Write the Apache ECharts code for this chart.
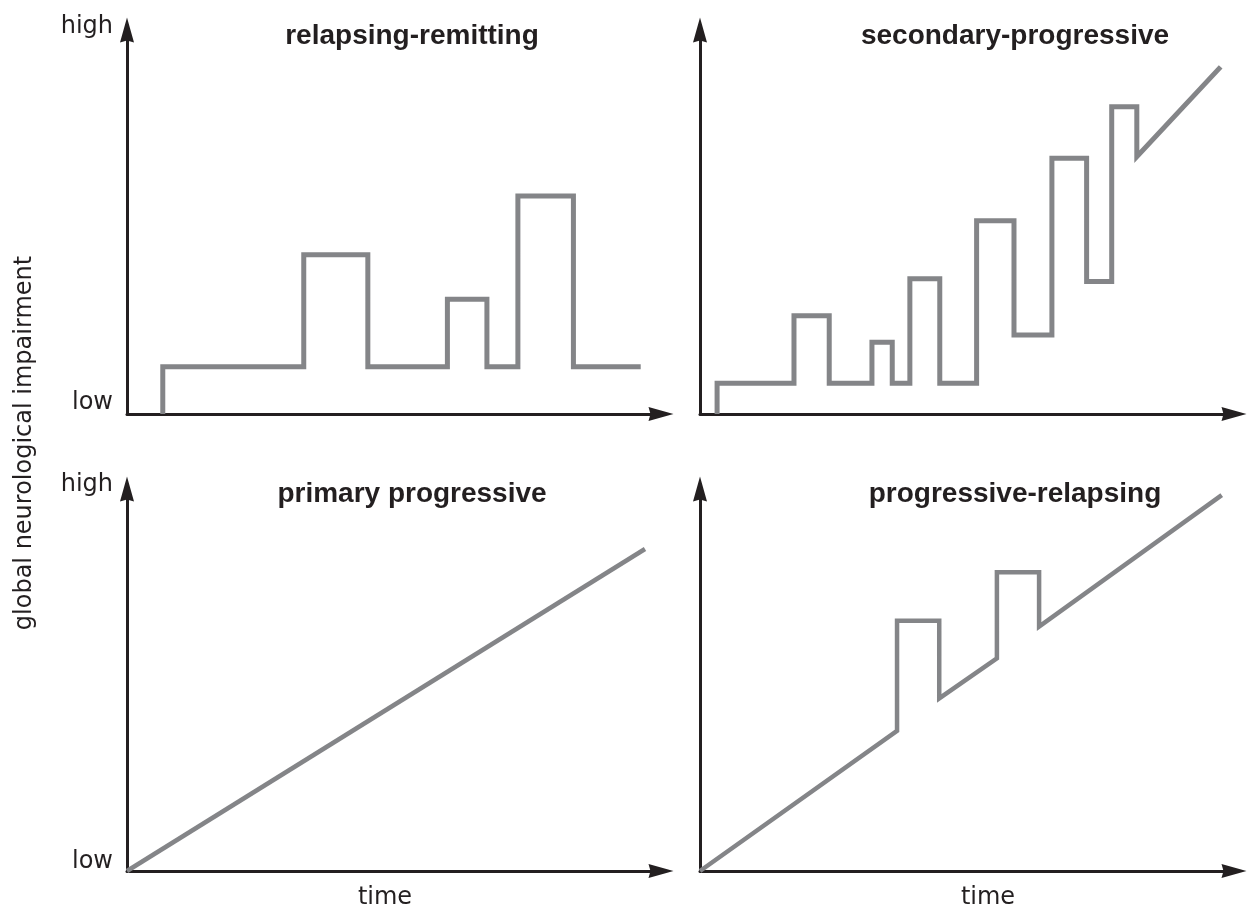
<!DOCTYPE html>
<html>
<head>
<meta charset="utf-8">
<title>MS disease courses</title>
<script src="https://cdn.jsdelivr.net/npm/echarts@6/dist/echarts.min.js"></script>
<style>
  html, body { margin: 0; padding: 0; background: #fff; }
  #chart { width: 1248px; height: 912px; }
</style>
</head>
<body>
<div id="chart"></div>
<script>
// time runs 0..100 along each panel, impairment 0 (low) .. 100 (high)
const rrTime = [6.7, 6.7, 33.1, 33.1, 45.1, 45.1, 60.0, 60.0, 67.4, 67.4, 73.2, 73.2, 83.6, 83.6, 96.2]
const rrLevel = [0, 12.3, 12.3, 41.5, 41.5, 12.3, 12.3, 29.9, 29.9, 12.3, 12.3, 56.8, 56.8, 12.3, 12.3]

const spTime = [3.2, 3.2, 17.6, 17.6, 24.2, 24.2, 32.2, 32.2, 36.0, 36.0, 39.3, 39.3, 44.9, 44.9,
  51.8, 51.8, 58.8, 58.8, 65.9, 65.9, 72.4, 72.4, 77.1, 77.1, 81.8, 81.8, 97.5]
const spLevel = [0, 8.0, 8.0, 25.6, 25.6, 8.0, 8.0, 18.7, 18.7, 8.0, 8.0, 35.2, 35.2, 8.0,
  8.0, 50.3, 50.3, 20.6, 20.6, 66.6, 66.6, 34.5, 34.5, 80.0, 80.0, 67.0, 90.4]

const ppTime = [0, 97.0]
const ppLevel = [0, 84.3]

const prTime = [0, 36.9, 36.9, 44.8, 44.8, 55.6, 55.6, 63.5, 63.5, 97.7]
const prLevel = [0, 36.7, 65.5, 65.5, 45.2, 55.7, 78.2, 78.2, 64.0, 98.4]

const panelTitles = ['relapsing-remitting', 'secondary-progressive', 'primary progressive', 'progressive-relapsing']
const levelLabels = ['low', 'high']
const timeLabel = 'time'
const yLabel = 'global neurological impairment'

const chart = echarts.init(document.getElementById('chart'))

const ink = '#231f20'
const lineGrey = '#848588'
// axis arrows keep their aspect, so the path has the same 14:25 shape as symbolSize
const arrow = 'path://M7,0 L14,25 L7,23 L0,25 Z'

const grids = [
  { left: 127, top: 30, width: 534, height: 384 },
  { left: 700, top: 30, width: 534, height: 384 },
  { left: 127, top: 489, width: 534, height: 382 },
  { left: 700, top: 489, width: 534, height: 382 }
]

function axis (gridIndex) {
  return {
    type: 'value',
    gridIndex: gridIndex,
    min: 0,
    max: 100,
    splitLine: { show: false },
    axisTick: { show: false },
    axisLabel: { show: false },
    axisLine: {
      show: true,
      symbol: ['none', arrow],
      symbolSize: [14, 25],
      lineStyle: { color: ink, width: 3 }
    }
  }
}

function pairUp (xs, ys) {
  return xs.map((x, i) => [x, ys[i]])
}

const panels = [
  pairUp(rrTime, rrLevel),
  pairUp(spTime, spLevel),
  pairUp(ppTime, ppLevel),
  pairUp(prTime, prLevel)
]

const series = panels.map((data, i) => ({
  type: 'line',
  xAxisIndex: i,
  yAxisIndex: i,
  data: data,
  showSymbol: false,
  clip: false,
  silent: true,
  lineStyle: {
    color: lineGrey,
    width: i < 2 ? 5 : 4.5,
    join: 'miter',
    cap: 'butt'
  }
}))

function label (text, x, y, font, align) {
  return {
    type: 'text',
    x: x,
    y: y,
    style: {
      text: text,
      font: font,
      fill: ink,
      align: align,
      textAlign: align,
      verticalAlign: 'middle',
      textVerticalAlign: 'middle'
    }
  }
}

const plain = '24px "DejaVu Sans"'
const bold = 'bold 28px "Liberation Sans"'

const texts = [
  label(panelTitles[0], 412, 36, bold, 'center'),
  label(panelTitles[1], 1015, 36, bold, 'center'),
  label(panelTitles[2], 412, 494, bold, 'center'),
  label(panelTitles[3], 1015, 494, bold, 'center'),
  label(levelLabels[1], 113, 27, plain, 'right'),
  label(levelLabels[0], 113, 403, plain, 'right'),
  label(levelLabels[1], 113, 485, plain, 'right'),
  label(levelLabels[0], 113, 862, plain, 'right'),
  label(timeLabel, 385, 898, plain, 'center'),
  label(timeLabel, 988, 898, plain, 'center')
]
texts.push({
  type: 'text',
  x: 25,
  y: 443,
  rotation: Math.PI / 2,
  style: {
    text: yLabel,
    font: plain,
    fill: ink,
    align: 'center',
    textAlign: 'center',
    verticalAlign: 'middle',
    textVerticalAlign: 'middle'
  }
})

chart.setOption({
  backgroundColor: '#fff',
  animation: false,
  grid: grids,
  xAxis: [axis(0), axis(1), axis(2), axis(3)],
  yAxis: [axis(0), axis(1), axis(2), axis(3)],
  series: series,
  graphic: texts
})
</script>
</body>
</html>
